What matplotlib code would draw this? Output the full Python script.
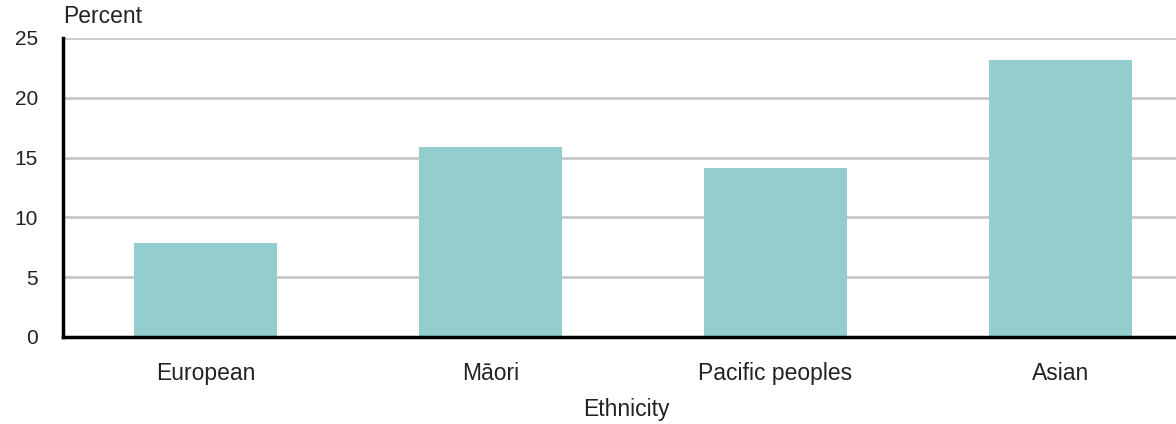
import matplotlib
matplotlib.use("Agg")
import matplotlib.pyplot as plt

categories = ["European", "Māori", "Pacific peoples", "Asian"]
percent = [7.9, 15.9, 14.1, 23.2]
y_ticks = [0, 5, 10, 15, 20, 25]

plt.rcParams["font.family"] = ["Liberation Sans", "DejaVu Sans"]
text_color = "#222222"

W, H = 1176, 424
fig = plt.figure(figsize=(W / 100, H / 100), dpi=100)
ax = fig.add_axes([63 / W, 87 / H, (W - 63) / W, 299 / H])

x = range(len(categories))
ax.bar(x, percent, width=0.5, color="#94cdcd", zorder=2)

ax.set_xlim(-0.5, 3.405)
ax.set_ylim(0, 25)
ax.set_yticks(y_ticks)
ax.set_xticks(list(x))
ax.set_xticklabels(categories)

ax.grid(axis="y", color="#c8c8c8", linewidth=2, zorder=0)
ax.set_axisbelow(True)
for side in ("top", "right"):
    ax.spines[side].set_visible(False)
for side in ("left", "bottom"):
    ax.spines[side].set_linewidth(2.5)
    ax.spines[side].set_color("black")
    ax.spines[side].set_zorder(3)

ax.tick_params(axis="both", length=0, colors=text_color)
ax.tick_params(axis="y", pad=18, labelsize=15)
ax.tick_params(axis="x", pad=18, labelsize=16.5)

fig.text(626 / W, 8 / H, "Ethnicity", fontsize=16.5, color=text_color,
         ha="center", va="baseline")
fig.text(63 / W, (H - 23) / H, "Percent", fontsize=16.5, color=text_color,
         ha="left", va="baseline")

fig.savefig("out.png", dpi=100)
